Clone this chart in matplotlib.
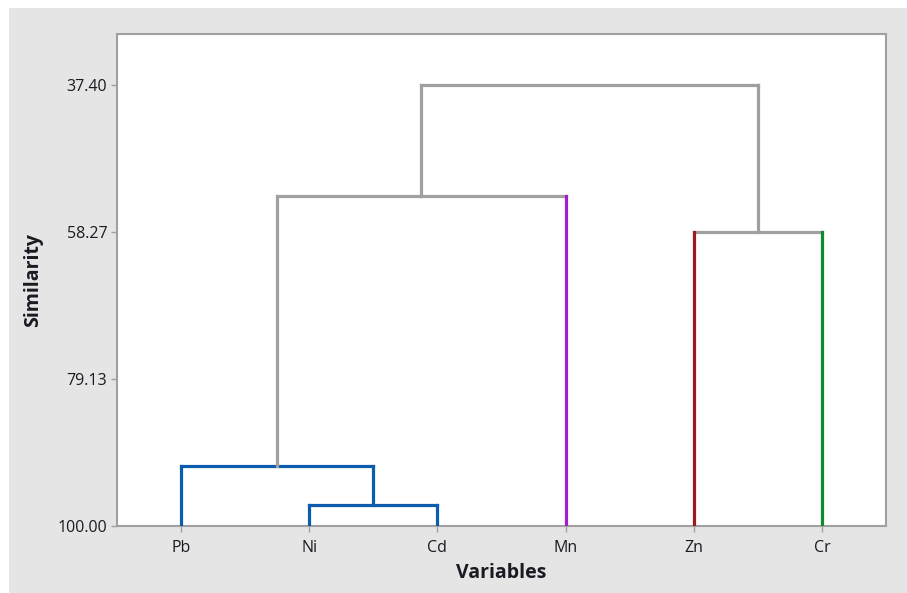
import matplotlib
matplotlib.use("Agg")
import matplotlib.pyplot as plt
from matplotlib.patches import Rectangle

# ---- data ----
leaves = ["Pb", "Ni", "Cd", "Mn", "Zn", "Cr"]
leaf_colors = ["#0b5cad", "#0b5cad", "#0b5cad", "#a21fd0", "#9b1c1c", "#108a2e"]
# merges: (child_a, child_b, similarity level, link colour); new node ids start at len(leaves)
merge_a = [1, 0, 7, 4, 8]
merge_b = [2, 6, 3, 5, 9]
merge_level = [97.02, 91.48, 53.20, 58.27, 37.40]
merge_color = ["#0b5cad", "#0b5cad", "#a0a0a0", "#a0a0a0", "#a0a0a0"]
ytick_values = [37.40, 58.27, 79.13, 100.00]
ytick_labels = ["37.40", "58.27", "79.13", "100.00"]

plt.rcParams['font.family'] = ['Open Sans', 'DejaVu Sans']

fig = plt.figure(figsize=(9.07, 5.93), dpi=100)
fig.patch.set_facecolor("white")
fig.patches.append(Rectangle((9 / 907, 0), 1, 1 - 8 / 593, transform=fig.transFigure,
                             facecolor="#e5e5e5", edgecolor="none", zorder=-10))

ax = fig.add_axes([117 / 907, 1 - 526 / 593, (886 - 117) / 907, (526 - 34) / 593])
ax.set_facecolor("white")

# node positions
xpos = {i: float(i + 1) for i in range(len(leaves))}
ypos = {i: 100.0 for i in range(len(leaves))}
lw = 2.3
for k, (a, b, h, c) in enumerate(zip(merge_a, merge_b, merge_level, merge_color)):
    node = len(leaves) + k
    for child in (a, b):
        vc = leaf_colors[child] if child < len(leaves) else c
        ax.plot([xpos[child], xpos[child]], [ypos[child], h], color=vc, lw=lw,
                solid_capstyle="projecting", zorder=3 if child < len(leaves) else 2)
    ax.plot([xpos[a], xpos[b]], [h, h], color=c, lw=lw, solid_capstyle="projecting", zorder=2)
    xpos[node] = (xpos[a] + xpos[b]) / 2
    ypos[node] = h

ax.set_xlim(0.5, 6.5)
top = 37.40 - (85 - 34) / ((526 - 85) / 62.6)
ax.set_ylim(100.0, top)
ax.set_xticks(range(1, len(leaves) + 1))
ax.set_xticklabels(leaves)
ax.set_yticks(ytick_values)
ax.set_yticklabels(ytick_labels)

for s in ax.spines.values():
    s.set_color("#a0a0a0")
    s.set_linewidth(1.5)
ax.tick_params(axis="both", colors="#a0a0a0", labelcolor="#1a1a22", labelsize=11.5,
               length=4, width=1, direction="out")
ax.tick_params(axis="x", pad=6)
ax.tick_params(axis="y", pad=3)

ax.set_xlabel("Variables", fontsize=14, fontweight="bold", color="#1a1a22")
ax.set_ylabel("Similarity", fontsize=14, fontweight="bold", color="#1a1a22")
ax.xaxis.set_label_coords((501 - 117) / (886 - 117), -(563 - 526) / (526 - 34))
ax.yaxis.set_label_coords(-(117 - 43) / (886 - 117), (526 - 280) / (526 - 34))

fig.savefig("out.png", dpi=100, facecolor=fig.get_facecolor())
